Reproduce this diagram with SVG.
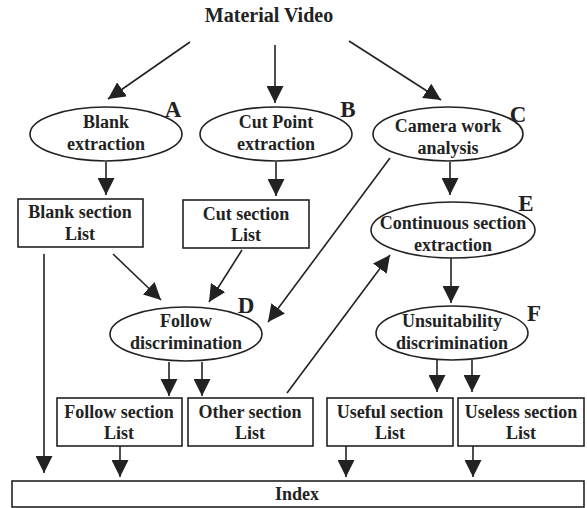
<svg xmlns="http://www.w3.org/2000/svg" width="587" height="508" viewBox="0 0 587 508">
<defs>
<marker id="ah" markerUnits="userSpaceOnUse" markerWidth="17" markerHeight="17" refX="17" refY="8.5" orient="auto">
<path d="M0,0 L17,8.5 L0,17 z" fill="#222"/>
</marker>
<style>
.n ellipse,.n rect{fill:#fff;stroke:#222;stroke-width:1.6}
text{font-family:"Liberation Serif","Times New Roman",serif;font-weight:bold;fill:#222;text-anchor:middle;font-size:18px}
.lbl{font-size:23px}
#edges line{stroke:#222;stroke-width:1.6;fill:none}
.a{marker-end:url(#ah)}
</style>
</defs>
<rect width="587" height="508" fill="#fff"/>
<text x="269" y="22" style="font-size:20px">Material Video</text>
<g id="edges">
<line class="a" x1="190" y1="42" x2="108" y2="99"/>
<line class="a" x1="275" y1="45" x2="275" y2="103"/>
<line class="a" x1="349" y1="41" x2="441" y2="100"/>
<line class="a" x1="106" y1="162" x2="106" y2="195"/>
<line class="a" x1="276" y1="162" x2="276" y2="196"/>
<line class="a" x1="450" y1="162" x2="450" y2="195"/>
<line class="a" x1="390" y1="158" x2="268" y2="322"/>
<line class="a" x1="113" y1="254" x2="161" y2="300"/>
<line class="a" x1="242" y1="250" x2="209" y2="302"/>
<line class="a" x1="169" y1="362" x2="169" y2="396"/>
<line class="a" x1="202" y1="362" x2="202" y2="396"/>
<line class="a" x1="287" y1="393" x2="390" y2="255"/>
<line class="a" x1="44" y1="254" x2="44" y2="473"/>
<line class="a" x1="120" y1="446" x2="120" y2="477"/>
<line class="a" x1="451" y1="258" x2="451" y2="303"/>
<line class="a" x1="437" y1="360" x2="437" y2="392"/>
<line class="a" x1="472" y1="360" x2="472" y2="392"/>
<line class="a" x1="346" y1="446" x2="346" y2="477"/>
<line class="a" x1="473" y1="446" x2="473" y2="477"/>
</g>
<g id="nA" class="n">
<ellipse cx="106" cy="134" rx="76" ry="27"/>
<text x="106" y="128">Blank</text>
<text x="106" y="150">extraction</text>
<text class="lbl" x="173" y="117">A</text>
</g>
<g id="nB" class="n">
<ellipse cx="276" cy="134" rx="76" ry="27"/>
<text x="276" y="128">Cut Point</text>
<text x="276" y="150">extraction</text>
<text class="lbl" x="348" y="117">B</text>
</g>
<g id="nC" class="n">
<ellipse cx="448" cy="134" rx="75" ry="27"/>
<text x="448" y="132">Camera work</text>
<text x="448" y="154">analysis</text>
<text class="lbl" x="518" y="122">C</text>
</g>
<g id="nBlank" class="n">
<rect x="18" y="199" width="125" height="48"/>
<text x="80" y="218">Blank section</text>
<text x="80" y="240">List</text>
</g>
<g id="nCut" class="n">
<rect x="183" y="200" width="126" height="48"/>
<text x="246" y="220">Cut section</text>
<text x="246" y="241">List</text>
</g>
<g id="nE" class="n">
<ellipse cx="453" cy="230" rx="82" ry="28"/>
<text x="453" y="229">Continuous section</text>
<text x="453" y="251">extraction</text>
<text class="lbl" x="526" y="211">E</text>
</g>
<g id="nD" class="n">
<ellipse cx="186" cy="334" rx="76" ry="27"/>
<text x="186" y="327">Follow</text>
<text x="186" y="349">discrimination</text>
<text class="lbl" x="246" y="313">D</text>
</g>
<g id="nF" class="n">
<ellipse cx="452" cy="333" rx="76" ry="27"/>
<text x="452" y="327">Unsuitability</text>
<text x="452" y="349">discrimination</text>
<text class="lbl" x="534" y="321">F</text>
</g>
<g id="nFollow" class="n">
<rect x="57" y="398" width="125" height="48"/>
<text x="119" y="418">Follow section</text>
<text x="119" y="439">List</text>
</g>
<g id="nOther" class="n">
<rect x="188" y="398" width="125" height="48"/>
<text x="250" y="418">Other section</text>
<text x="250" y="439">List</text>
</g>
<g id="nUseful" class="n">
<rect x="327" y="398" width="126" height="48"/>
<text x="390" y="418">Useful section</text>
<text x="390" y="439">List</text>
</g>
<g id="nUseless" class="n">
<rect x="458" y="398" width="126" height="48"/>
<text x="521" y="418">Useless section</text>
<text x="521" y="439">List</text>
</g>
<g id="nIndex" class="n">
<rect x="12" y="481" width="572" height="26"/>
<text x="297" y="500">Index</text>
</g>
</svg>
